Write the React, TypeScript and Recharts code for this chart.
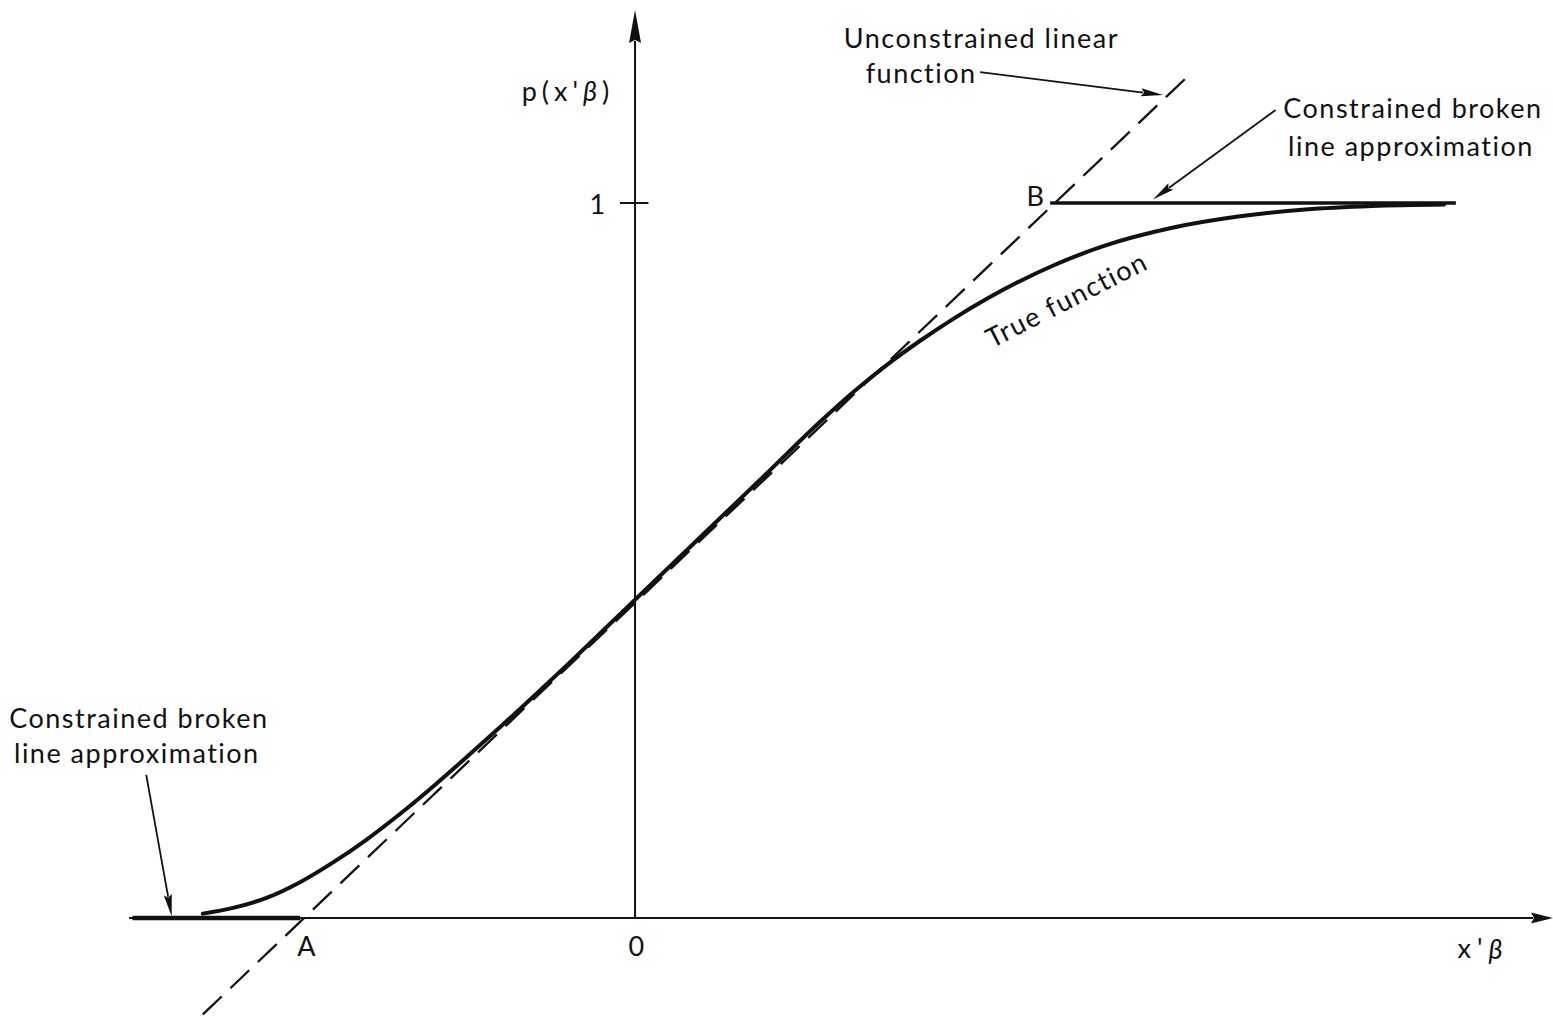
import React from "react"
import {
  ComposedChart,
  Line,
  ReferenceDot,
  ReferenceLine,
  XAxis,
  YAxis,
} from "recharts"

// x'β in units where A = -1; p(x'β) in [0, 1]
const X_DOMAIN: [number, number] = [-1.5, 2.74]
const Y_DOMAIN: [number, number] = [-0.14, 1.27]

const TRUE_FUNCTION = [
  { x: -1.29, y: 0.006 },
  { x: -1.2, y: 0.014 },
  { x: -1.1, y: 0.028 },
  { x: -1.0, y: 0.05 },
  { x: -0.9, y: 0.078 },
  { x: -0.8, y: 0.11 },
  { x: -0.7, y: 0.146 },
  { x: -0.6, y: 0.185 },
  { x: -0.5, y: 0.226 },
  { x: -0.4, y: 0.268 },
  { x: -0.3, y: 0.311 },
  { x: -0.2, y: 0.355 },
  { x: -0.1, y: 0.4 },
  { x: 0, y: 0.445 },
  { x: 0.2, y: 0.535 },
  { x: 0.4, y: 0.625 },
  { x: 0.55, y: 0.693 },
  { x: 0.65, y: 0.735 },
  { x: 0.75, y: 0.773 },
  { x: 0.85, y: 0.807 },
  { x: 0.95, y: 0.838 },
  { x: 1.05, y: 0.866 },
  { x: 1.15, y: 0.891 },
  { x: 1.25, y: 0.913 },
  { x: 1.4, y: 0.94 },
  { x: 1.6, y: 0.965 },
  { x: 1.8, y: 0.981 },
  { x: 2.0, y: 0.991 },
  { x: 2.2, y: 0.996 },
  { x: 2.415, y: 0.998 },
]

const LINEAR_FUNCTION = [
  { x: -1.29, y: -0.135 },
  { x: 1.645, y: 1.175 },
]

const BROKEN_LOW = [
  { x: -1.51, y: 0 },
  { x: -1.0, y: 0 },
]

const BROKEN_HIGH = [
  { x: 1.239, y: 1 },
  { x: 2.45, y: 1 },
]

interface Note {
  text: string
  x: number
  y: number
  angle?: number
  spacing?: number
}

const NOTES: Note[] = [
  { text: "p(x'\u03b2)", x: -0.2, y: 1.158, spacing: 5 },
  { text: "1", x: -0.11, y: 1.0 },
  { text: "Unconstrained linear", x: 1.034, y: 1.232 },
  { text: "function", x: 0.854, y: 1.183 },
  { text: "Constrained broken", x: 2.322, y: 1.133 },
  { text: "line approximation", x: 2.316, y: 1.081 },
  { text: "B", x: 1.197, y: 1.011 },
  { text: "True function", x: 1.287, y: 0.866, angle: -27 },
  { text: "Constrained broken", x: -1.481, y: 0.28 },
  { text: "line approximation", x: -1.487, y: 0.232 },
  { text: "A", x: -0.979, y: -0.038 },
  { text: "0", x: 0.006, y: -0.038 },
  { text: "x'\u03b2", x: 2.531, y: -0.042, spacing: 6 },
]

interface Pointer {
  from: [number, number]
  to: [number, number]
}

const POINTERS: Pointer[] = [
  { from: [1.03, 1.183], to: [1.576, 1.151] },
  { from: [1.912, 1.13], to: [1.546, 1.005] },
  { from: [-1.459, 0.2], to: [-1.383, 0.002] },
]

const INK = "#111"
const FONT = "Lato, 'Noto Sans', sans-serif"

function arrowShape(len: number, half: number, width: number) {
  return (p: any) => {
    const { x1, y1, x2, y2 } = p
    const dx = x2 - x1
    const dy = y2 - y1
    const d = Math.hypot(dx, dy) || 1
    const ux = dx / d
    const uy = dy / d
    const bx = x2 - ux * len
    const by = y2 - uy * len
    const pts = [
      `${x2},${y2}`,
      `${bx - uy * half},${by + ux * half}`,
      `${bx + ux * 3},${by + uy * 3}`,
      `${bx + uy * half},${by - ux * half}`,
    ].join(" ")
    return (
      <g>
        <line x1={x1} y1={y1} x2={bx + ux * 2} y2={by + uy * 2} stroke={INK} strokeWidth={width} />
        <polygon points={pts} fill={INK} />
      </g>
    )
  }
}

function noteShape(note: Note) {
  return (p: any) => {
    const { cx, cy } = p
    const parts = note.text.split("\u03b2")
    return (
      <text
        x={cx}
        y={cy}
        textAnchor="middle"
        dominantBaseline="central"
        fontFamily={FONT}
        fontSize={27}
        letterSpacing={note.spacing ?? 1.5}
        fill={INK}
        transform={note.angle ? `rotate(${note.angle} ${cx} ${cy})` : undefined}
      >
        {parts.map((s, i) => (
          <React.Fragment key={i}>
            {i > 0 ? <tspan fontStyle="italic">{"\u03b2"}</tspan> : null}
            {s}
          </React.Fragment>
        ))}
      </text>
    )
  }
}

export default function App() {
  return (
    <div style={{ position: "absolute", left: 0, top: 0, width: 1553, height: 1018, background: "#fff" }}>
      <ComposedChart
        width={1553}
        height={1018}
        margin={{ top: 10, right: 0, left: 132.5, bottom: 0 }}
      >
        <XAxis type="number" dataKey="x" domain={X_DOMAIN} allowDataOverflow hide />
        <YAxis type="number" dataKey="y" domain={Y_DOMAIN} allowDataOverflow hide />

        {/* axes */}
        <ReferenceLine
          segment={[{ x: -1.51, y: 0 }, { x: 2.74, y: 0 }]}
          ifOverflow="visible"
          shape={arrowShape(22, 5.5, 2)}
        />
        <ReferenceLine
          segment={[{ x: 0, y: 0 }, { x: 0, y: 1.27 }]}
          ifOverflow="visible"
          shape={arrowShape(33, 6, 2)}
        />
        <ReferenceLine
          segment={[{ x: -0.045, y: 1 }, { x: 0.04, y: 1 }]}
          ifOverflow="visible"
          stroke={INK}
          strokeWidth={2}
        />

        <Line
          data={LINEAR_FUNCTION}
          dataKey="y"
          type="linear"
          stroke={INK}
          strokeWidth={2.3}
          strokeDasharray="26 12"
          dot={false}
          isAnimationActive={false}
        />
        <Line
          data={BROKEN_LOW}
          dataKey="y"
          type="linear"
          stroke={INK}
          strokeWidth={4.5}
          dot={false}
          isAnimationActive={false}
        />
        <Line
          data={BROKEN_HIGH}
          dataKey="y"
          type="linear"
          stroke={INK}
          strokeWidth={3.5}
          dot={false}
          isAnimationActive={false}
        />
        <Line
          data={TRUE_FUNCTION}
          dataKey="y"
          type="monotone"
          stroke={INK}
          strokeWidth={4}
          strokeLinecap="round"
          dot={false}
          isAnimationActive={false}
        />

        {POINTERS.map((a, i) => (
          <ReferenceLine
            key={`ptr-${i}`}
            segment={[{ x: a.from[0], y: a.from[1] }, { x: a.to[0], y: a.to[1] }]}
            ifOverflow="visible"
            shape={arrowShape(22, 4, 1.8)}
          />
        ))}

        {NOTES.map((n, i) => (
          <ReferenceDot
            key={`note-${i}`}
            x={n.x}
            y={n.y}
            r={0}
            ifOverflow="visible"
            shape={noteShape(n)}
          />
        ))}
      </ComposedChart>
    </div>
  )
}
